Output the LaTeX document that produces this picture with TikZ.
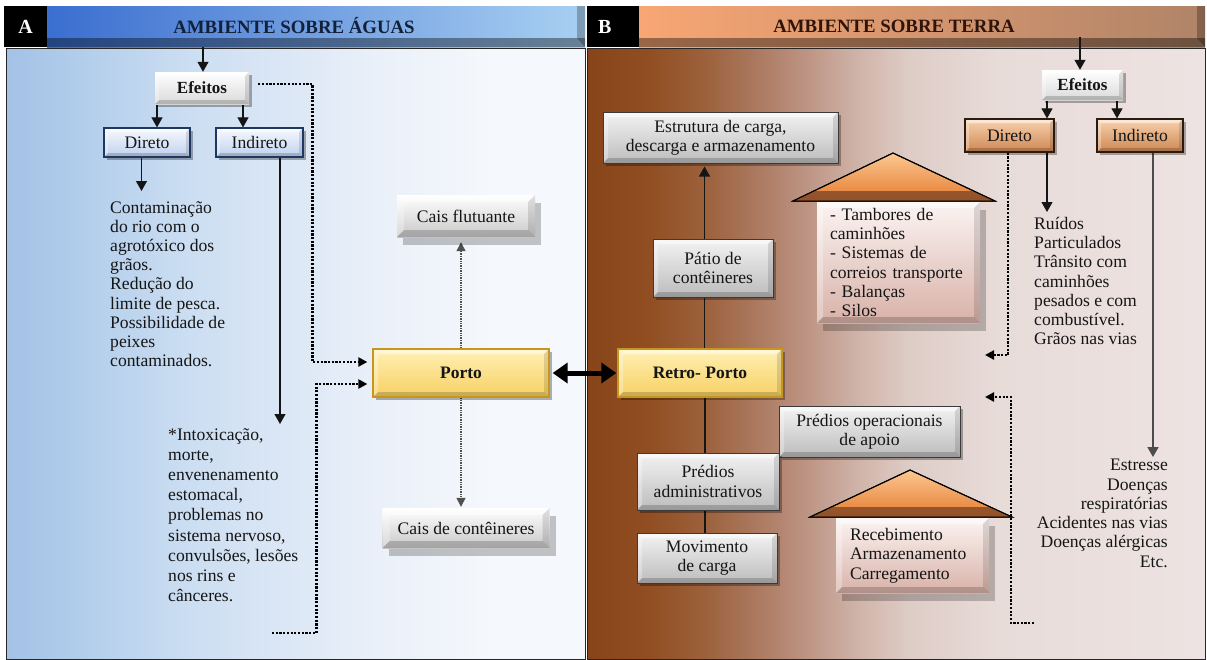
\documentclass[tikz,border=0pt]{standalone}
\usepackage{fontspec}
\setmainfont{Liberation Serif}
\usetikzlibrary{arrows.meta,shadows,calc}
\pgfdeclarelayer{back}
\pgfdeclarelayer{lines}
\pgfsetlayers{back,lines,main}
% colours
\definecolor{txtc}{HTML}{151515}
\definecolor{lnc}{HTML}{151515}
\definecolor{fdc}{HTML}{505050}
\definecolor{a0}{HTML}{A3C2E6}
\definecolor{a1}{HTML}{B6D0EC}
\definecolor{a2}{HTML}{CCDEF2}
\definecolor{a3}{HTML}{DDE8F6}
\definecolor{a4}{HTML}{EBF1F9}
\definecolor{a5}{HTML}{F5F8FC}
\definecolor{t0}{HTML}{864418}
\definecolor{t1}{HTML}{914E22}
\definecolor{t2}{HTML}{9C613C}
\definecolor{t3}{HTML}{AC7B62}
\definecolor{t4}{HTML}{BE9686}
\definecolor{t5}{HTML}{D0B4A9}
\definecolor{t6}{HTML}{DECCC6}
\definecolor{t7}{HTML}{E8DCD9}
\definecolor{t8}{HTML}{EDE3E2}
\definecolor{hbL}{HTML}{3A6ED0}
\definecolor{hbR}{HTML}{A9D0F2}
\definecolor{hoL}{HTML}{F8A674}
\definecolor{hoR}{HTML}{B08468}
\definecolor{hdA}{HTML}{13203A}
\definecolor{hdB}{HTML}{2E140A}
\definecolor{effB}{HTML}{DADADA}
\definecolor{effD}{HTML}{C4C4C4}
\definecolor{bluT}{HTML}{F6F9FF}
\definecolor{bluB}{HTML}{BFD1EC}
\definecolor{bluD}{HTML}{1F3763}
\definecolor{yelT}{HTML}{FFF0B5}
\definecolor{yelB}{HTML}{F7D063}
\definecolor{yelD}{HTML}{C9961C}
\definecolor{gryT}{HTML}{F3F3F3}
\definecolor{gryB}{HTML}{BCBCBC}
\definecolor{gryD}{HTML}{3A3A3A}
\definecolor{lgtB}{HTML}{C8C8C8}
\definecolor{orgT}{HTML}{F9D2AE}
\definecolor{orgB}{HTML}{CD8652}
\definecolor{orgD}{HTML}{2B1A10}
\definecolor{hsT}{HTML}{FBF4F2}
\definecolor{hsB}{HTML}{D8B1A8}
\definecolor{rfT}{HTML}{FCC790}
\definecolor{rfB}{HTML}{E57C32}
\definecolor{rfD}{HTML}{7A4324}
\pgfdeclarehorizontalshading{agua}{100bp}{color(0bp)=(a0); color(25bp)=(a0); color(33bp)=(a1); color(41bp)=(a2); color(50bp)=(a3); color(58bp)=(a4); color(67bp)=(a5); color(75bp)=(a5); color(100bp)=(a5)}
\pgfdeclarehorizontalshading{terra}{100bp}{color(0bp)=(t0); color(25bp)=(t0); color(30bp)=(t1); color(34.5bp)=(t2); color(39bp)=(t3); color(43bp)=(t4); color(47bp)=(t5); color(51bp)=(t6); color(58.5bp)=(t7); color(75bp)=(t8); color(100bp)=(t8)}
\begin{document}
\begin{tikzpicture}[x=1pt,y=-1pt,
  bevel/.style={path picture={
    \fill[white,opacity=.5] (path picture bounding box.north west) -- (path picture bounding box.north east)
       -- ([xshift=-#1,yshift=-#1]path picture bounding box.north east) -- ([xshift=#1,yshift=-#1]path picture bounding box.north west) -- cycle;
    \fill[white,opacity=.3] (path picture bounding box.north west) -- ([xshift=#1,yshift=-#1]path picture bounding box.north west)
       -- ([xshift=#1,yshift=#1]path picture bounding box.south west) -- (path picture bounding box.south west) -- cycle;
    \fill[black,opacity=.18] (path picture bounding box.south west) -- (path picture bounding box.south east)
       -- ([xshift=-#1,yshift=#1]path picture bounding box.south east) -- ([xshift=#1,yshift=#1]path picture bounding box.south west) -- cycle;
    \fill[black,opacity=.12] (path picture bounding box.north east) -- ([xshift=-#1,yshift=-#1]path picture bounding box.north east)
       -- ([xshift=-#1,yshift=#1]path picture bounding box.south east) -- (path picture bounding box.south east) -- cycle;
  }},
  bevel/.default=5pt,
  bx/.style={rectangle, inner sep=0pt, align=center, font=\fontsize{17.6}{19.3}\selectfont, text=txtc},
  txt/.style={inner sep=0pt, align=left, text=txtc},
  shd/.style={drop shadow={shadow xshift=3pt,shadow yshift=-3pt,opacity=.3,fill=black}},
  bigshd/.style={drop shadow={shadow xshift=6pt,shadow yshift=-8pt,opacity=.22,fill=black}},
  effbox/.style={bx, shd, bevel=4pt, top color=white, bottom color=effB, font=\bfseries\fontsize{17}{19}\selectfont},
  bluebox/.style={bx, shd, bevel=4pt, top color=bluT, bottom color=bluB, draw=bluD, line width=1.2pt},
  yelbox/.style={bx, shd, bevel=5pt, top color=yelT, bottom color=yelB, draw=yelD, line width=1.3pt, font=\bfseries\fontsize{17.5}{19}\selectfont},
  graybox/.style={bx, shd, bevel=5pt, top color=gryT, bottom color=gryB, draw=gryD, line width=1pt},
  lightbox/.style={bx, bigshd, bevel=7pt, top color=white, bottom color=lgtB},
  orgbox/.style={bx, shd, bevel=4pt, top color=orgT, bottom color=orgB, draw=orgD, line width=1.2pt},
  housebox/.style={bx, bigshd, bevel=6pt, align=left, inner ysep=0pt, top color=hsT, bottom color=hsB},
  roof/.style={top color=rfT, bottom color=rfB, draw=black, line width=1pt, line join=miter},
  roofband/.style={fill=rfD, opacity=.75},
  hdrtxt/.style={inner sep=0pt, font=\bfseries\fontsize{18.8}{20}\selectfont},
  lblbox/.style={fill=black, text=white, inner sep=0pt, font=\bfseries\fontsize{20}{22}\selectfont},
  arr/.style={draw=lnc, line width=1.1pt, -{Triangle[width=11pt,length=10pt]}},
  dotarr/.style={draw=black, line width=2.3pt, dash pattern=on 2.2pt off 1.5pt, -{Triangle[width=9pt,length=9pt]}},
  fdot/.style={draw=fdc, line width=1.3pt, dash pattern=on 1.3pt off 1.1pt, -{Triangle[width=9pt,length=9pt]}},
  dbl/.style={draw=black, line width=5pt, {Triangle[width=20pt,length=15pt]}-{Triangle[width=20pt,length=15pt]}}
]
\useasboundingbox (0,0) rectangle (1207,659);

% ---------- panels and headers ----------
\begin{pgfonlayer}{back}
  \fill[white] (0,0) rectangle (1207,659);
  \path[shading=agua, draw=black!85, line width=.8pt] (6,48) rectangle (585,659);
  \path[shading=terra, draw=black!85, line width=.8pt] (587,48) rectangle (1205,659);
  % header A
  \path[left color=hbL, right color=hbR] (47,6) rectangle (585,47);
  \fill[black, opacity=.38] (47,38) rectangle (585,47);
  \fill[black, opacity=.25] (577,6) -- (585,6) -- (585,47) -- (577,38) -- cycle;
  % header B
  \path[left color=hoL, right color=hoR] (639,6) rectangle (1205,47);
  \fill[black, opacity=.38] (639,38) rectangle (1205,47);
  \fill[black, opacity=.25] (1197,6) -- (1205,6) -- (1205,47) -- (1197,38) -- cycle;
\end{pgfonlayer}

\node[lblbox, minimum width=43pt, minimum height=41pt] (lA) at (25.5,26.5) {A};
\node[lblbox, minimum width=52pt, minimum height=41pt, text width=30pt, align=left] (lB) at (613,26.5) {B};
\node[hdrtxt, text=hdA] (tA) at (294,26) {AMBIENTE SOBRE ÁGUAS};
\node[hdrtxt, text=hdB] (tB) at (894,26) {AMBIENTE SOBRE TERRA};
\coordinate (hA) at (203,47);
\coordinate (hB) at (1080,37);

% ---------- left side ----------
\node[effbox, minimum width=94pt, minimum height=32pt] (effL) at (202,88) {Efeitos};
\node[bluebox, minimum width=86pt, minimum height=29pt] (dirL) at (147,142.5) {Direto};
\node[bluebox, minimum width=87pt, minimum height=29pt] (indL) at (259.5,142.5) {Indireto};
\node[txt, anchor=north west, font=\fontsize{17.6}{19.2}\selectfont] (tDirL) at (110,201)
  {Contaminação\\do rio com o\\agrotóxico dos\\grãos.\\Redução do\\limite de pesca.\\Possibilidade de\\peixes\\contaminados.};
\node[txt, anchor=north west, font=\fontsize{17.6}{20.2}\selectfont] (tIndL) at (168,428)
  {*Intoxicação,\\morte,\\envenenamento\\estomacal,\\problemas no\\sistema nervoso,\\convulsões, lesões\\nos rins e\\cânceres.};
\node[yelbox, minimum width=176pt, minimum height=48pt] (porto) at (461,373) {Porto};
\node[lightbox, minimum width=138pt, minimum height=42pt] (caisF) at (466,216) {Cais flutuante};
\node[lightbox, minimum width=167pt, minimum height=40pt] (caisC) at (466,528) {Cais de contêineres};
\coordinate (dL2) at (272,633);

% ---------- right side ----------
\node[yelbox, minimum width=164pt, minimum height=48pt] (retro) at (700,373) {Retro- Porto};
\node[graybox, minimum width=235pt, minimum height=51pt] (estr) at (720.5,137.5) {Estrutura de carga,\\descarga e armazenamento};
\node[graybox, minimum width=120pt, minimum height=58pt] (patio) at (713,268) {Pátio de\\contêineres};
\node[graybox, minimum width=181pt, minimum height=51pt] (predOp) at (869.5,431.5) {Prédios operacionais\\de apoio};
\node[graybox, minimum width=142pt, minimum height=57pt] (predAdm) at (708,481.5) {Prédios\\administrativos};
\node[graybox, minimum width=140pt, minimum height=50pt] (mov) at (707,558) {Movimento\\de carga};

% house 1
\node[housebox, text width=137pt, inner xsep=13pt, minimum height=121pt] (house1) at (898.5,262.5)
  {- Tambores de\\caminhões\\- Sistemas de\\correios transporte\\- Balanças\\- Silos};
\path[roof] (793,201) -- (893,153) -- (995,201) -- cycle;
\fill[roofband] (793,201) -- (813.8,191) -- (973.7,191) -- (995,201) -- cycle;
\draw[black, line width=1pt, line join=miter] (793,201) -- (893,153) -- (995,201) -- cycle;
% house 2
\node[housebox, text width=125pt, inner xsep=14pt, minimum height=75pt] (house2) at (912.5,555.5)
  {Recebimento\\Armazenamento\\Carregamento};
\path[roof] (810,517) -- (910,470) -- (1012,517) -- cycle;
\fill[roofband] (810,517) -- (831.3,507) -- (990.3,507) -- (1012,517) -- cycle;
\draw[black, line width=1pt, line join=miter] (810,517) -- (910,470) -- (1012,517) -- cycle;

\node[effbox, minimum width=81pt, minimum height=30pt] (effR) at (1082.5,85) {Efeitos};
\node[orgbox, minimum width=89pt, minimum height=33pt] (dirR) at (1009.5,135.5) {Direto};
\node[orgbox, minimum width=86pt, minimum height=33pt] (indR) at (1140,135.5) {Indireto};
\node[txt, anchor=north west, font=\fontsize{17.6}{19.2}\selectfont] (tDirR) at (1034,217)
  {Ruídos\\Particulados\\Trânsito com\\caminhões\\pesados e com\\combustível.\\Grãos nas vias};
\node[txt, anchor=north east, align=right, font=\fontsize{17.6}{19.3}\selectfont] (tIndR) at (1168,459)
  {Estresse\\Doenças\\respiratórias\\Acidentes nas vias\\Doenças alérgicas\\Etc.};
\coordinate (aR1) at (985,355);
\coordinate (aR2) at (985,397);
\coordinate (dR2) at (1034,623);

% ---------- connectors ----------
\begin{pgfonlayer}{lines}
  % left
  \draw[arr] (hA) -- (hA |- effL.north);
  \draw[arr] ([xshift=-45pt]effL.south) -- ([xshift=-45pt]effL.south |- dirL.north);
  \draw[arr] ([xshift=41pt]effL.south) -- ([xshift=41pt]effL.south |- indL.north);
  \draw[arr, shorten >=10pt] ([xshift=-5.5pt]dirL.south) -- ([xshift=-5.5pt]dirL.south |- tDirL.north);
  \draw[arr, shorten >=4pt] ([xshift=20.5pt]indL.south) -- ([xshift=20.5pt]indL.south |- tIndL.north);
  \draw[dotarr] ($(effL.east)+(9,-4)$) -| ($(porto.west)+(-60,-11)$) -- ($(porto.west)+(-5,-11)$);
  \draw[dotarr] (dL2) -| ($(porto.west)+(-56,11)$) -- ($(porto.west)+(-5,11)$);
  \draw[fdot, shorten >=5pt] (porto.north) -- (porto.north |- caisF.south);
  \draw[fdot, shorten >=1pt] (porto.south) -- (porto.south |- caisC.north);
  \draw[dbl, shorten <=3pt, shorten >=1pt] (porto.east) -- (retro.west);
  % right
  \draw[arr, shorten >=3pt] ([xshift=4.5pt]retro.north) -- ([xshift=4.5pt]retro.north |- estr.south);
  \draw[draw=lnc, line width=1.1pt] ([xshift=5pt]retro.south) -- ([xshift=5pt]retro.south |- mov.north);
  \draw[arr] (hB) -- (hB |- effR.north);
  \draw[arr] ([xshift=-35.5pt]effR.south) -- ([xshift=-35.5pt]effR.south |- dirR.north);
  \draw[arr] ([xshift=34.5pt]effR.south) -- ([xshift=34.5pt]effR.south |- indR.north);
  \draw[arr, shorten >=5pt] ([xshift=37.5pt]dirR.south) -- ([xshift=37.5pt]dirR.south |- tDirR.north);
  \draw[arr, draw=black!70, line width=1.5pt, shorten >=2pt] ([xshift=13pt]indR.south) -- ([xshift=13pt]indR.south |- tIndR.north);
  \draw[dotarr] ([xshift=-1.5pt]dirR.south) |- (aR1);
  \draw[dotarr] (dR2) -| ($(aR2)+(26,0)$) -- (aR2);
\end{pgfonlayer}
\end{tikzpicture}
\end{document}
